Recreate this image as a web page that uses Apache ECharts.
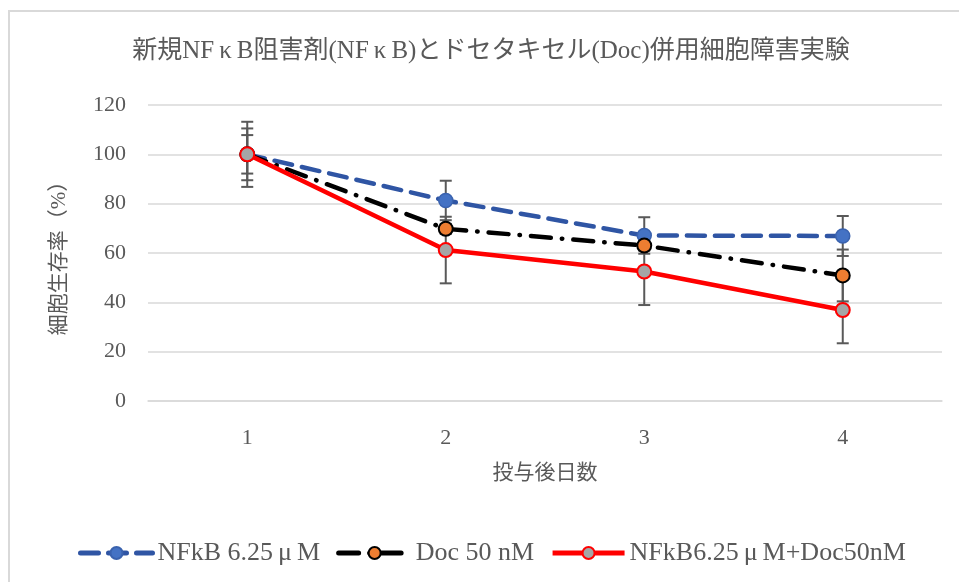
<!DOCTYPE html>
<html>
<head>
<meta charset="utf-8">
<script src="https://cdn.jsdelivr.net/npm/echarts@6/dist/echarts.min.js"></script>
<style>
html,body{margin:0;padding:0;background:#fff;}
#c{width:959px;height:582px;}
</style>
</head>
<body>
<div id="c"></div>
<script>
// ---- data ----
const titleText = '新規NFκB阻害剤(NFκB)とドセタキセル(Doc)併用細胞障害実験';
const categories = ['1', '2', '3', '4'];
const seriesNames = ['NFkB 6.25μM', 'Doc 50 nM', 'NFkB6.25μM+Doc50nM'];
const nfkbValues = [100, 81.3, 67.1, 66.9];
const docValues = [100, 69.8, 63.0, 50.9];
const comboValues = [100, 61.2, 52.5, 36.9];
const nfkbErr = [7.8, 8.0, 7.4, 8.1];
const docErr = [10.5, 2.0, 2.0, 10.5];
const comboErr = [13.2, 13.5, 13.6, 13.5];
const yTicks = [0, 20, 40, 60, 80, 100, 120];
const xAxisName = '投与後日数';
const yAxisName = '細胞生存率（%）';

const FONT = "'Liberation Serif', 'Noto Sans CJK JP', serif";
const TXT = '#595959';

function errSeries(vals, errs) {
  return vals.map((v, i) => [i, v - errs[i], v + errs[i]]);
}
function renderErr(params, api) {
  const x = api.value(0);
  const lo = api.coord([x, api.value(1)]);
  const hi = api.coord([x, api.value(2)]);
  const hw = 6;
  const st = { stroke: '#595959', lineWidth: 2 };
  return {
    type: 'group',
    children: [
      { type: 'line', shape: { x1: lo[0], y1: lo[1], x2: hi[0], y2: hi[1] }, style: st },
      { type: 'line', shape: { x1: lo[0] - hw, y1: lo[1], x2: lo[0] + hw, y2: lo[1] }, style: st },
      { type: 'line', shape: { x1: hi[0] - hw, y1: hi[1], x2: hi[0] + hw, y2: hi[1] }, style: st }
    ]
  };
}

const chart = echarts.init(document.getElementById('c'), null, { renderer: 'canvas' });
chart.setOption({
  animation: false,
  backgroundColor: '#fff',
  graphic: [{
    type: 'rect', shape: { x: 9, y: 11, width: 1200, height: 1200 },
    style: { fill: 'none', stroke: '#d9d9d9', lineWidth: 2 }, z: -1, silent: true
  }],
  title: {
    text: titleText.replace(/κ/g, '{k|κ}'), left: 486, textAlign: 'center', top: 34,
    textStyle: {
      fontFamily: FONT, fontSize: 25, fontWeight: 'normal', color: TXT,
      rich: { k: { fontFamily: FONT, fontSize: 25, color: TXT, padding: [0, 5] } }
    }
  },
  grid: { left: 148, right: 17, top: 105, bottom: 181 },
  legend: {
    data: seriesNames, left: 73, top: 535, itemWidth: 72, itemHeight: 15, itemGap: 16,
    formatter: name => name.replace('μ', '{m|μ}'),
    lineStyle: { width: 5 },
    textStyle: {
      fontFamily: FONT, fontSize: 26, color: TXT,
      rich: { m: { fontFamily: FONT, fontSize: 26, color: TXT, padding: [0, 5] } }
    }
  },
  xAxis: {
    type: 'category', data: categories, boundaryGap: true,
    axisLine: { lineStyle: { color: '#d9d9d9', width: 1.5 } },
    axisTick: { show: false },
    axisLabel: { fontFamily: FONT, fontSize: 22, color: TXT, margin: 26 },
    name: xAxisName, nameLocation: 'middle', nameGap: 62,
    nameTextStyle: { fontFamily: FONT, fontSize: 21, color: TXT }
  },
  yAxis: {
    type: 'value', min: 0, max: 120, interval: 20,
    axisLine: { show: false }, axisTick: { show: false },
    splitLine: { lineStyle: { color: '#d9d9d9', width: 1.5 } },
    axisLabel: { fontFamily: FONT, fontSize: 22, color: TXT, margin: 22 },
    name: yAxisName, nameLocation: 'middle', nameGap: 78, nameRotate: 90,
    nameTextStyle: { fontFamily: FONT, fontSize: 21, color: TXT }
  },
  series: [
    { type: 'custom', name: 'errA', data: errSeries(nfkbValues, nfkbErr), renderItem: renderErr, z: 1, silent: true },
    { type: 'custom', name: 'errB', data: errSeries(docValues, docErr), renderItem: renderErr, z: 1, silent: true },
    { type: 'custom', name: 'errC', data: errSeries(comboValues, comboErr), renderItem: renderErr, z: 1, silent: true },
    {
      type: 'line', name: seriesNames[0], data: nfkbValues, z: 3,
      symbol: 'circle', symbolSize: 14,
      lineStyle: { color: '#2F55A4', width: 4.5, type: [18, 10], cap: 'round' },
      itemStyle: { color: '#4472C4', borderColor: '#3A62AE', borderWidth: 1.5 }
    },
    {
      type: 'line', name: seriesNames[1], data: docValues, z: 4,
      symbol: 'circle', symbolSize: 14,
      lineStyle: { color: '#000', width: 4.5, type: [20, 11, 0.5, 11], cap: 'round' },
      itemStyle: { color: '#ED7D31', borderColor: '#000', borderWidth: 2 }
    },
    {
      type: 'line', name: seriesNames[2], data: comboValues, z: 5,
      symbol: 'circle', symbolSize: 14,
      lineStyle: { color: '#FF0000', width: 4.5, type: 'solid' },
      itemStyle: { color: '#A5A5A5', borderColor: '#FF0000', borderWidth: 2 }
    }
  ]
});
</script>
</body>
</html>
